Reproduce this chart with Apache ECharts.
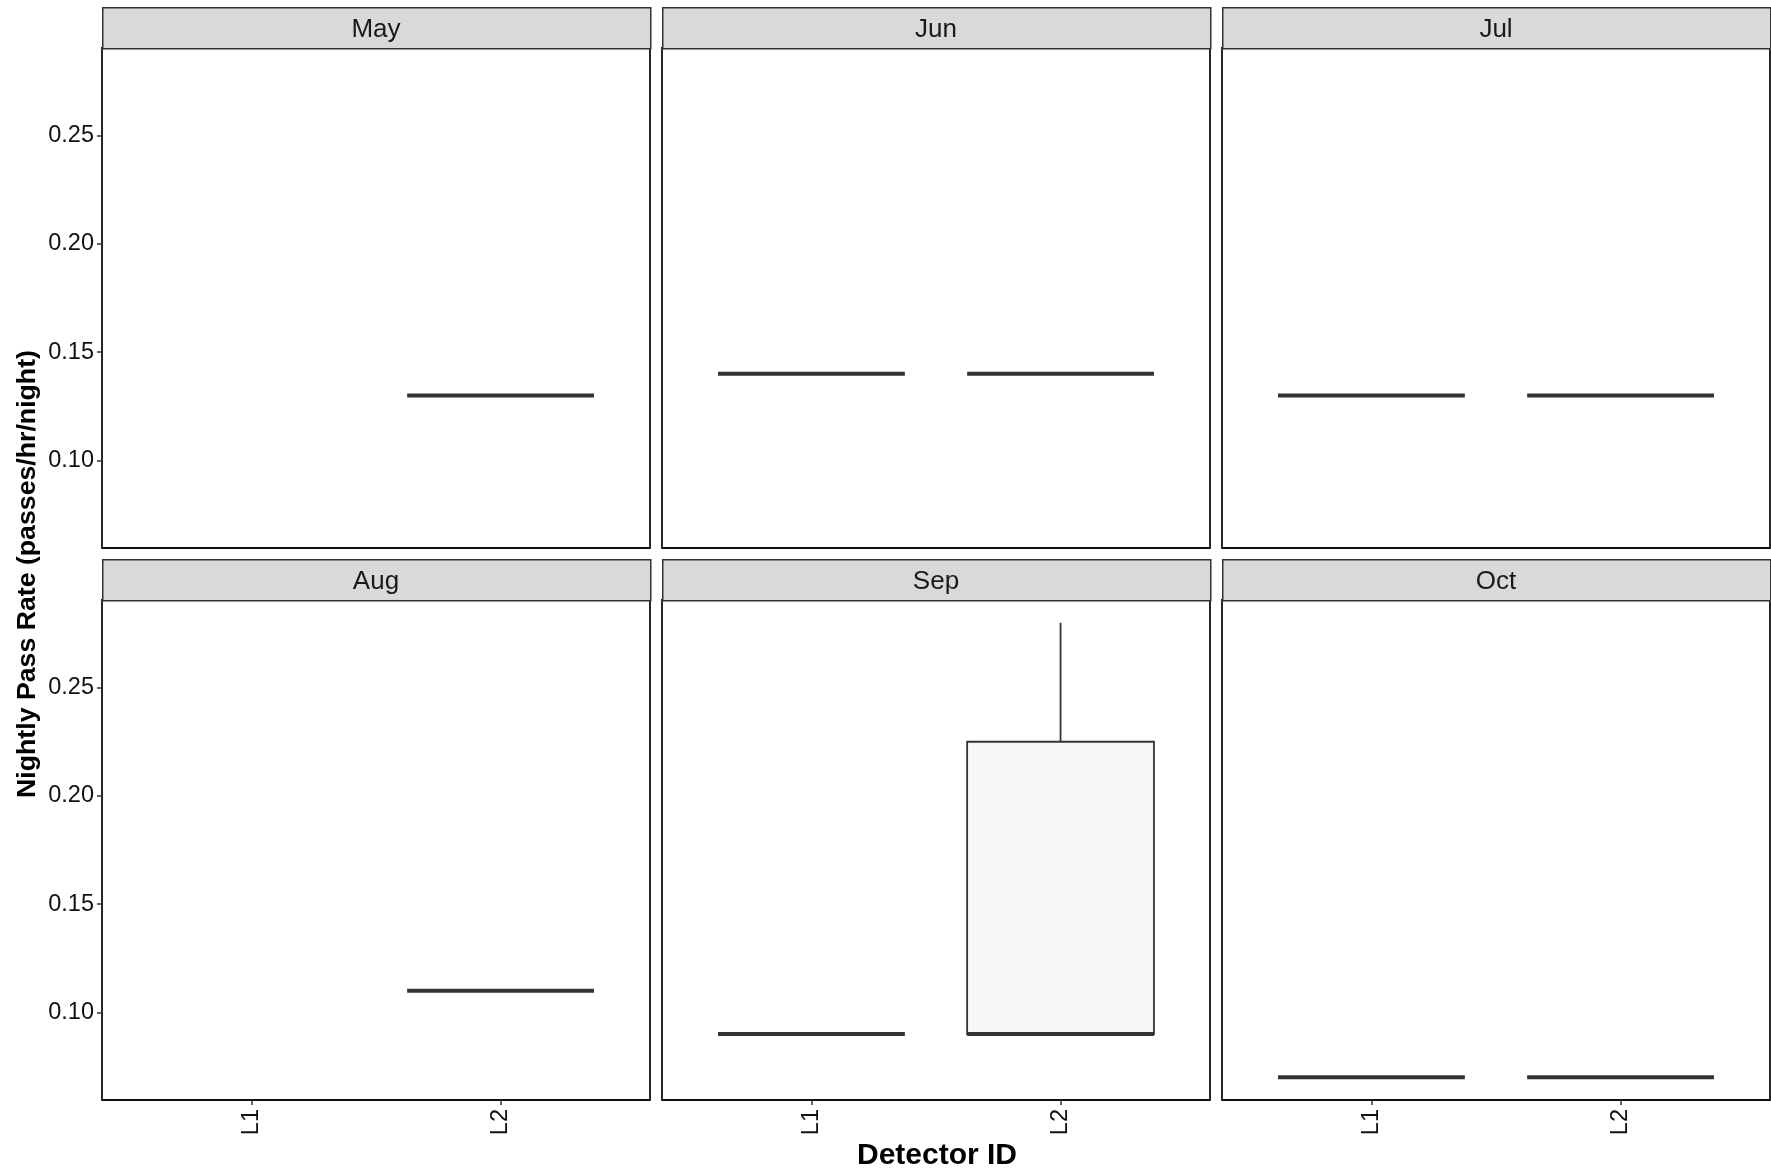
<!DOCTYPE html>
<html>
<head>
<meta charset="utf-8">
<script src="https://cdn.jsdelivr.net/npm/echarts@6/dist/echarts.min.js"></script>
<style>
html,body{margin:0;padding:0;background:#fff;}
#chart{width:1771px;height:1173px;}
</style>
</head>
<body>
<div id="chart"></div>
<script>
// ---- Data ----
const months = ['May', 'Jun', 'Jul', 'Aug', 'Sep', 'Oct'];
const detectors = ['L1', 'L2'];
// box stats per detector: [min, q1, median, q3, max]; null = no data
const statsMay = [null, [0.13, 0.13, 0.13, 0.13, 0.13]];
const statsJun = [[0.14, 0.14, 0.14, 0.14, 0.14], [0.14, 0.14, 0.14, 0.14, 0.14]];
const statsJul = [[0.13, 0.13, 0.13, 0.13, 0.13], [0.13, 0.13, 0.13, 0.13, 0.13]];
const statsAug = [null, [0.11, 0.11, 0.11, 0.11, 0.11]];
const statsSep = [[0.09, 0.09, 0.09, 0.09, 0.09], [0.09, 0.09, 0.09, 0.225, 0.28]];
const statsOct = [[0.07, 0.07, 0.07, 0.07, 0.07], [0.07, 0.07, 0.07, 0.07, 0.07]];
const yTicks = [0.10, 0.15, 0.20, 0.25];
const yMin = 0.0595, yMax = 0.2905;
const allStats = [statsMay, statsJun, statsJul, statsAug, statsSep, statsOct];

// ---- Layout ----
const FONT = "'Liberation Sans', Arial, sans-serif";
const colLeft = [102, 662, 1222];
const panelW = 548;
const rowTop = [48, 600];
const panelH = 500;
const stripH = 41;

const chart = echarts.init(document.getElementById('chart'), null, {renderer: 'canvas'});

const grids = [], xAxes = [], yAxes = [], series = [], graphics = [];

months.forEach((m, i) => {
  const col = i % 3, row = Math.floor(i / 3);
  const isLeft = col === 0, isBottom = row === 1;
  grids.push({
    left: colLeft[col], top: rowTop[row], width: panelW, height: panelH,
    show: true, borderColor: '#111', borderWidth: 1.8, backgroundColor: '#fff'
  });
  xAxes.push({
    type: 'value', gridIndex: i, min: 0.4, max: 2.6,
    axisLine: {show: false},
    splitLine: {show: false},
    axisTick: {show: isBottom, customValues: [1, 2], length: 5, lineStyle: {color: '#333', width: 1.5}},
    axisLabel: {
      show: isBottom, customValues: [1, 2], rotate: 90, margin: 9,
      fontSize: 23.5, color: '#111', fontFamily: FONT,
      formatter: v => detectors[Math.round(v) - 1] || ''
    }
  });
  yAxes.push({
    type: 'value', gridIndex: i, min: yMin, max: yMax,
    axisLine: {show: false},
    splitLine: {show: false},
    axisTick: {show: isLeft, customValues: yTicks, length: 5, lineStyle: {color: '#333', width: 1.5}},
    axisLabel: {
      show: isLeft, customValues: yTicks, margin: 8,
      fontSize: 23.5, color: '#111', fontFamily: FONT,
      formatter: v => v.toFixed(2)
    }
  });
  const data = [];
  allStats[i].forEach((s, j) => { if (s) data.push([j + 1].concat(s)); });
  series.push({
    type: 'custom', xAxisIndex: i, yAxisIndex: i, clip: false,
    data: data,
    renderItem: function (params, api) {
      const x = api.value(0);
      const mn = api.value(1), q1 = api.value(2), md = api.value(3), q3 = api.value(4), mx = api.value(5);
      const hw = 0.375;
      const tl = api.coord([x - hw, q3]);
      const br = api.coord([x + hw, q1]);
      const cq3 = api.coord([x, q3]), cmx = api.coord([x, mx]);
      const cq1 = api.coord([x, q1]), cmn = api.coord([x, mn]);
      const m1 = api.coord([x - hw, md]), m2 = api.coord([x + hw, md]);
      const children = [];
      if (mx > q3) children.push({type: 'line', shape: {x1: cq3[0], y1: cq3[1], x2: cmx[0], y2: cmx[1]}, style: {stroke: '#333', lineWidth: 1.8}});
      if (mn < q1) children.push({type: 'line', shape: {x1: cq1[0], y1: cq1[1], x2: cmn[0], y2: cmn[1]}, style: {stroke: '#333', lineWidth: 1.8}});
      if (q3 > q1) children.push({type: 'rect', shape: {x: tl[0], y: tl[1], width: br[0] - tl[0], height: br[1] - tl[1]}, style: {fill: '#F7F7F7', stroke: '#333', lineWidth: 1.8}});
      children.push({type: 'line', shape: {x1: m1[0], y1: m1[1], x2: m2[0], y2: m2[1]}, style: {stroke: '#333', lineWidth: 4}});
      return {type: 'group', children: children};
    }
  });
  // facet strip
  graphics.push({
    type: 'rect', left: colLeft[col], top: rowTop[row] - stripH,
    shape: {width: panelW, height: stripH},
    style: {fill: '#D9D9D9', stroke: '#333', lineWidth: 1.5}, z: 10
  });
  graphics.push({
    type: 'text', x: colLeft[col] + panelW / 2, y: rowTop[row] - stripH / 2 + 2,
    style: {text: m, fill: '#1A1A1A', font: '26px ' + FONT, textAlign: 'center', textVerticalAlign: 'middle'}, z: 11
  });
});

// axis titles
graphics.push({
  type: 'text', x: 937, y: 1156,
  style: {text: 'Detector ID', fill: '#000', font: 'bold 30px ' + FONT, textAlign: 'center', textVerticalAlign: 'middle'}
});
graphics.push({
  type: 'text', x: 28, y: 574, rotation: Math.PI / 2,
  style: {text: 'Nightly Pass Rate (passes/hr/night)', fill: '#000', font: 'bold 26.7px ' + FONT, textAlign: 'center', textVerticalAlign: 'middle'}
});

chart.setOption({
  backgroundColor: '#fff',
  animation: false,
  grid: grids,
  xAxis: xAxes,
  yAxis: yAxes,
  series: series,
  graphic: graphics
});
</script>
</body>
</html>
